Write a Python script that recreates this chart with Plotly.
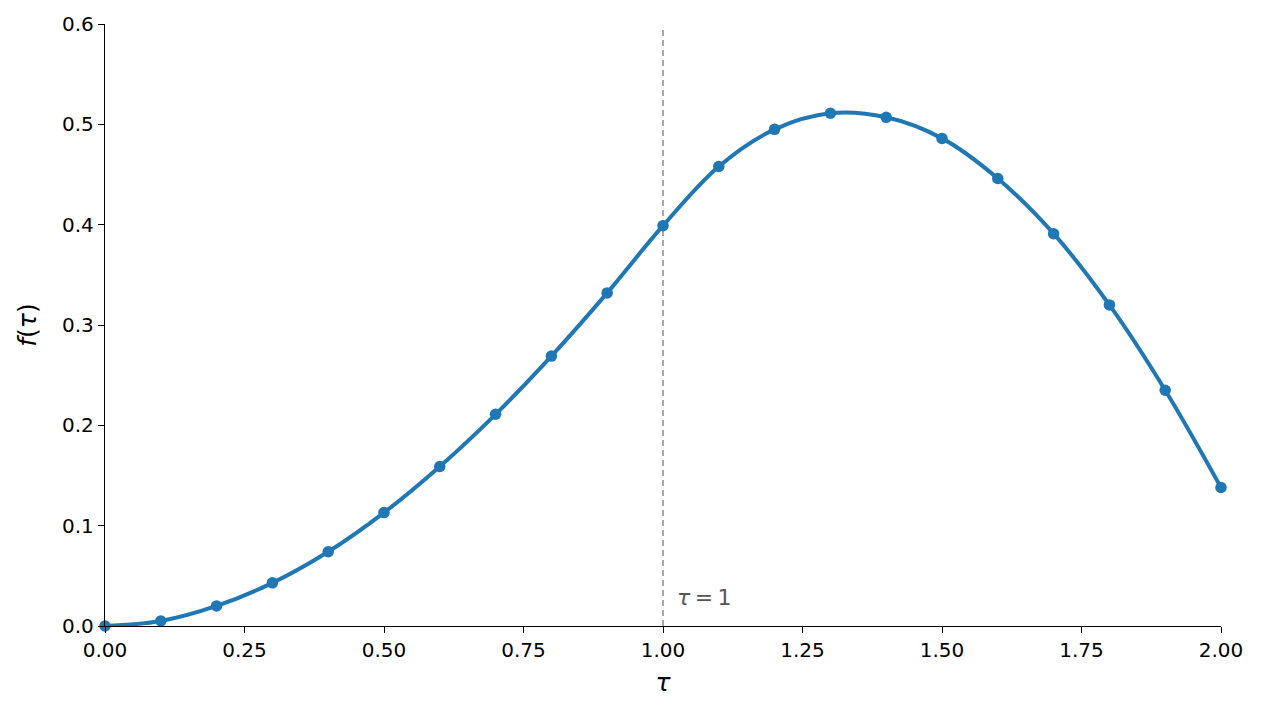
import plotly.graph_objects as go

tau = [0.0, 0.1, 0.2, 0.3, 0.4, 0.5, 0.6, 0.7, 0.8, 0.9, 1.0,
       1.1, 1.2, 1.3, 1.4, 1.5, 1.6, 1.7, 1.8, 1.9, 2.0]
f_vals = [0.0, 0.005, 0.020, 0.043, 0.074, 0.113, 0.159, 0.211, 0.269, 0.332, 0.399,
          0.458, 0.495, 0.511, 0.507, 0.486, 0.446, 0.391, 0.320, 0.235, 0.138]
x_ticks = [0.0, 0.25, 0.5, 0.75, 1.0, 1.25, 1.5, 1.75, 2.0]
x_ticklabels = ["0.00", "0.25", "0.50", "0.75", "1.00", "1.25", "1.50", "1.75", "2.00"]
y_ticks = [0.0, 0.1, 0.2, 0.3, 0.4, 0.5, 0.6]
y_ticklabels = ["0.0", "0.1", "0.2", "0.3", "0.4", "0.5", "0.6"]
vline_x = 1.0

blue = "#1f77b4"
font = "DejaVu Sans"

fig = go.Figure()
fig.add_trace(go.Scatter(x=tau, y=f_vals, mode="lines",
                         line=dict(color=blue, width=4, shape="spline", smoothing=1.0),
                         hoverinfo="skip", showlegend=False, cliponaxis=False))
fig.add_trace(go.Scatter(x=tau, y=f_vals, mode="markers",
                         marker=dict(color=blue, size=11.5),
                         showlegend=False, cliponaxis=False))

fig.add_shape(type="line", x0=vline_x, x1=vline_x, y0=0, y1=0.596,
              xref="x", yref="y", layer="below",
              line=dict(color="#8c8c8c", width=1.5, dash="6px,4px"))
fig.add_annotation(x=vline_x, y=0.028, xref="x", yref="y", xshift=12,
                   text="<i>τ</i>\u2009=\u20091", showarrow=False, xanchor="left", yanchor="middle",
                   font=dict(family=font, size=22, color="#555555"))

fig.update_layout(
    width=1245, height=698,
    margin=dict(l=97, r=32, t=16, b=80),
    paper_bgcolor="white", plot_bgcolor="white",
    font=dict(family=font, size=19, color="black"),
    xaxis=dict(range=[0, 2], tickvals=x_ticks, ticktext=x_ticklabels, automargin=False,
               showgrid=False, zeroline=False, showline=True, linecolor="black",
               linewidth=1.4, ticks="outside", ticklen=6, tickwidth=1.4, tickcolor="black",
               title=dict(text="<i>τ</i>", font=dict(size=25), standoff=12),
               tickfont=dict(size=20)),
    yaxis=dict(range=[0, 0.6], tickvals=y_ticks, ticktext=y_ticklabels, automargin=False,
               showgrid=False, zeroline=False, showline=True, linecolor="black",
               linewidth=1.4, ticks="outside", ticklen=6, tickwidth=1.4, tickcolor="black",
               title=dict(text="<i>f</i>(<i>τ</i>)", font=dict(size=25), standoff=18),
               tickfont=dict(size=20)),
)

fig.write_html("out.html")
